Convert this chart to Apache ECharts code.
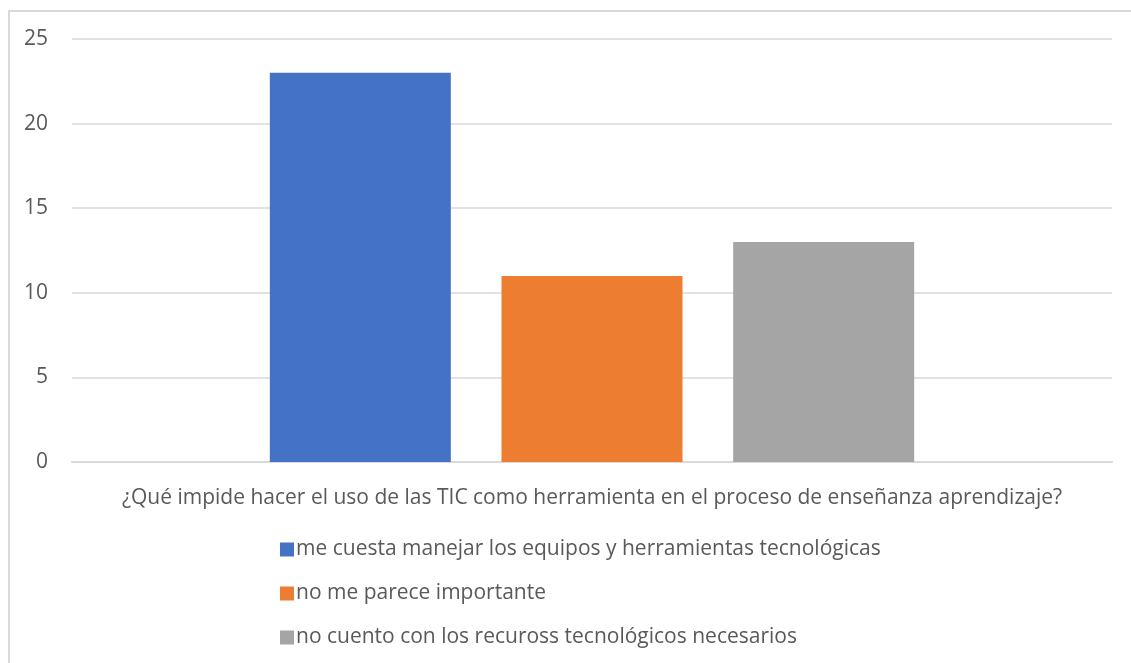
<!DOCTYPE html>
<html><head><meta charset="utf-8">
<script src="https://cdn.jsdelivr.net/npm/echarts@6/dist/echarts.min.js"></script>
<style>html,body{margin:0;padding:0;background:#fff}#c{width:1131px;height:663px}</style>
</head><body><div id="c"></div>
<script>
const categories = ['¿Qué impide hacer el uso de las TIC como herramienta en el proceso de enseñanza aprendizaje?'];
const seriesNames = ['me cuesta manejar los equipos y herramientas tecnológicas','no me parece importante','no cuento con los recuross tecnológicos necesarios'];
const seriesValues = [[23],[11],[13]];
const colors = ['#4472C4','#ED7D31','#A5A5A5'];
const yTicks = {min:0,max:25,interval:5};

const chart = echarts.init(document.getElementById('c'));
const font = '"Open Sans", sans-serif';
chart.setOption({
  animation:false,
  graphic:[{type:'rect',shape:{x:9,y:11,width:1200,height:800},style:{fill:'none',stroke:'#d9d9d9',lineWidth:2},silent:true}],
  grid:{left:72,right:19,top:39,bottom:201},
  legend:{orient:'vertical',left:275,top:534,itemWidth:14,itemHeight:14,itemGap:23,icon:'rect',
    textStyle:{color:'#595959',fontSize:21,fontFamily:font,padding:[0,0,0,-3]},
    data:seriesNames},
  xAxis:{type:'category',data:categories,
    axisLine:{lineStyle:{color:'#d9d9d9',width:2}},axisTick:{show:false},
    axisLabel:{color:'#595959',fontSize:21,fontFamily:font,margin:26}},
  yAxis:{type:'value',min:yTicks.min,max:yTicks.max,interval:yTicks.interval,
    axisLine:{show:false},axisTick:{show:false},
    splitLine:{lineStyle:{color:'#d9d9d9',width:1.5}},
    axisLabel:{color:'#595959',fontSize:21,fontFamily:font,margin:24}},
  series:seriesNames.map((n,i)=>({name:n,type:'bar',data:seriesValues[i],barWidth:181,barGap:'28%',itemStyle:{color:colors[i]}}))
});
</script></body></html>
